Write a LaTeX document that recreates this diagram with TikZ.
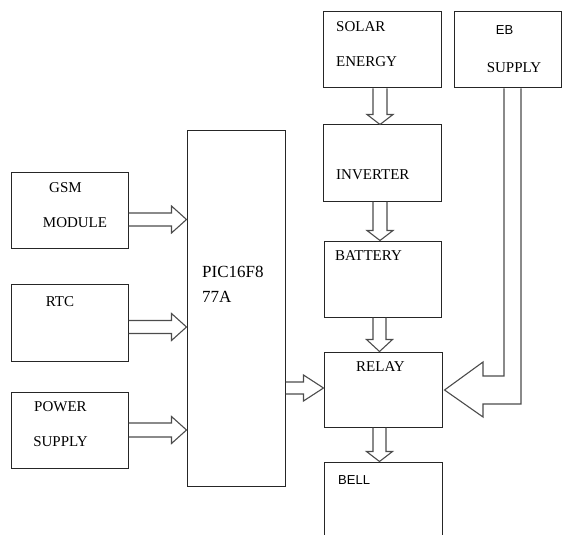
\documentclass[tikz,border=0pt]{standalone}
\usepackage{fontspec}
\setmainfont{Liberation Serif}
\newfontfamily\lsans{Liberation Sans}
\usetikzlibrary{calc}
\tikzset{
  box/.style={draw=black!85, line width=1pt, rectangle, inner sep=0pt},
  barrow/.style={draw=black!70, line width=1.1pt, line join=miter},
  lbl/.style={inner sep=0pt, font=\fontsize{15}{15}\selectfont, anchor=west},
  slbl/.style={inner sep=0pt, font=\lsans\fontsize{13}{13}\selectfont},
}
\newcommand{\harr}[5]{% start, tip, half body, half head, head length
  \draw[barrow] ($(#1)+(0,#3)$) -- ($(#2)+(-#5,#3)$) -- ($(#2)+(-#5,#4)$) -- (#2)
    -- ($(#2)+(-#5,-#4)$) -- ($(#2)+(-#5,-#3)$) -- ($(#1)+(0,-#3)$);}
\newcommand{\varr}[5]{% start, tip, half body, half head, head length
  \draw[barrow] ($(#1)+(#3,0)$) -- ($(#2)+(#3,-#5)$) -- ($(#2)+(#4,-#5)$) -- (#2)
    -- ($(#2)+(-#4,-#5)$) -- ($(#2)+(-#3,-#5)$) -- ($(#1)+(-#3,0)$);}
\begin{document}
\begin{tikzpicture}[x=1pt,y=-1pt]
\useasboundingbox (0,0) rectangle (571,535);
\clip (0,0) rectangle (571,535);
% boxes
\node[box, minimum width=117pt, minimum height=76pt] (gsm) at (69.5,210) {};
\node[box, minimum width=117pt, minimum height=77pt] (rtc) at (69.5,322.5) {};
\node[box, minimum width=117pt, minimum height=76pt] (pow) at (69.5,430) {};
\node[box, minimum width=98pt, minimum height=355pt] (pic) at (236,308.5) {};
\node[box, minimum width=118pt, minimum height=76pt] (solar) at (382,50) {};
\node[box, minimum width=107pt, minimum height=76pt] (eb) at (507.5,50) {};
\node[box, minimum width=118pt, minimum height=76pt] (inv) at (382,163) {};
\node[box, minimum width=117pt, minimum height=76pt] (bat) at (382.5,279) {};
\node[box, minimum width=118pt, minimum height=75pt] (relay) at (383,389.5) {};
\node[box, minimum width=118pt, minimum height=90pt] (bell) at (383,507) {};
% labels
\node[lbl, anchor=center] (tgsm) at (65.5,188) {GSM};
\node[lbl, anchor=center] (tmod) at (75,223) {MODULE};
\node[lbl, anchor=center] (trtc) at (60,302) {RTC};
\node[lbl, anchor=center] (tpow) at (60.5,407) {POWER};
\node[lbl, anchor=center] (tsup) at (60.5,442) {SUPPLY};
\node[lbl, font=\fontsize{17}{17}\selectfont] (tpic1) at (202,272) {PIC16F8};
\node[lbl, font=\fontsize{17}{17}\selectfont] (tpic2) at (202,297) {77A};
\node[lbl] (tsol) at (336,27) {SOLAR};
\node[lbl] (tene) at (336,62) {ENERGY};
\node[slbl] (teb) at (504.5,30) {EB};
\node[lbl, anchor=center] (tebs) at (514,68) {SUPPLY};
\node[lbl] (tinv) at (336,175) {INVERTER};
\node[lbl] (tbat) at (335,256) {BATTERY};
\node[lbl, anchor=center] (trel) at (380.5,367) {RELAY};
\node[slbl, anchor=west] (tbell) at (338,480) {BELL};
% anchor coordinates for arrows
\coordinate (g1) at (gsm.east |- 0,219.5);
\coordinate (g2) at (pic.west |- 0,219.5);
\coordinate (r1) at (rtc.east |- 0,327);
\coordinate (r2) at (pic.west |- 0,327);
\coordinate (p1) at (pow.east |- 0,430);
\coordinate (p2) at (pic.west |- 0,430);
\coordinate (m1) at (pic.east |- 0,388);
\coordinate (m2) at (relay.west |- 0,388);
\coordinate (s1) at (solar.south -| 380,0);
\coordinate (s2) at (inv.north -| 380,0);
\coordinate (i1) at (inv.south -| 380,0);
\coordinate (i2) at (bat.north -| 380,0);
\coordinate (b1) at (bat.south -| 379.5,0);
\coordinate (b2) at (relay.north -| 379.5,0);
\coordinate (l1) at (relay.south -| 379.5,0);
\coordinate (l2) at (bell.north -| 379.5,0);
\coordinate (e1) at (eb.south -| 504,0);
\coordinate (e2) at (eb.south -| 521,0);
\coordinate (etip) at (relay.east |- 0,390);
% block arrows
\harr{g1}{g2}{6.5}{13.5}{15}
\harr{r1}{r2}{6.5}{13.5}{15}
\harr{p1}{p2}{7}{13.5}{15}
\harr{m1}{m2}{6}{13}{20}
\varr{s1}{s2}{7}{13}{10}
\varr{i1}{i2}{7}{13}{10}
\varr{b1}{b2}{6.5}{13}{12}
\varr{l1}{l2}{6.5}{13}{10}
% EB supply bent arrow
\draw[barrow] (e1) -- (504,376) -- (483,376) -- (483,362) -- ($(etip)+(2,0)$)
  -- (483,417) -- (483,404) -- (521,404) -- (e2);
\end{tikzpicture}
\end{document}
